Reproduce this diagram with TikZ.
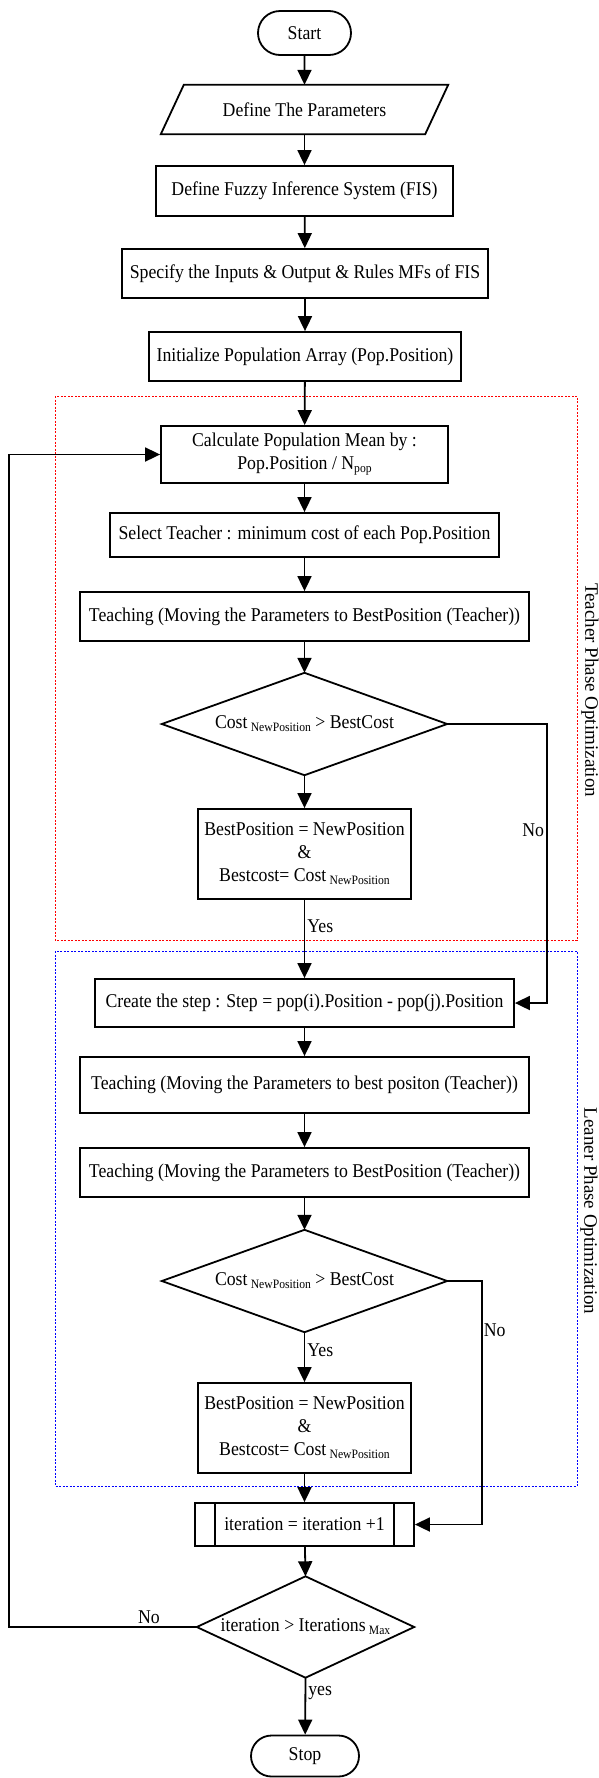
\documentclass[tikz,border=0pt]{standalone}
\usepackage{fontspec}
\setmainfont{Liberation Serif}[FakeStretch=0.91]
\newfontfamily\vfont{Liberation Serif}
\usetikzlibrary{arrows.meta,shapes.misc}
\newcommand{\lowsub}[1]{\raisebox{-3pt}{\fontsize{12.8}{13}\selectfont #1}}
\tikzset{
  box/.style={draw, line width=1.8pt, rectangle, inner sep=0pt, align=center},
  term/.style={draw, line width=1.8pt, rounded rectangle, inner sep=0pt, align=center},
  hidden/.style={rectangle, inner sep=0pt, align=center},
  arr/.style={-{Triangle[length=15pt,width=14pt]}, line width=1.8pt},
  shape line/.style={line width=1.8pt},
  phase/.style={line width=1pt, dash pattern=on 2pt off 1.5pt},
  lbl/.style={inner sep=2pt},
  vlabel/.style={rotate=-90, font=\vfont\fontsize{19}{22}\selectfont}
}
\begin{document}
\begin{tikzpicture}[x=1pt,y=-1pt,font=\fontsize{19.5}{23}\selectfont]
\useasboundingbox (0,0) rectangle (598,1778);

% phase frames
\draw[phase, red] (55,396) rectangle (577,940);
\draw[phase, blue] (55,951) rectangle (577,1486);
\node[vlabel] (tlabel) at (590,690) {Teacher Phase Optimization};
\node[vlabel] (llabel) at (589,1211) {Leaner Phase Optimization};

% nodes
\node[term, minimum width=93pt, minimum height=44pt] (start) at (304.5,33) {Start};
\node[hidden, minimum width=264pt, minimum height=49pt] (params) at (304.5,109.5) {Define The Parameters};
\node[box, minimum width=297pt, minimum height=50pt] (fis) at (304.5,191) {Define Fuzzy Inference System (FIS)};
\node[box, minimum width=366pt, minimum height=49pt] (spec) at (305,273.5) {Specify the Inputs \& Output \& Rules MFs of FIS};
\node[box, minimum width=312pt, minimum height=49pt] (init) at (305,356.5) {Initialize Population Array (Pop.Position)};
\node[box, minimum width=287pt, minimum height=57pt] (calc) at (304.5,454.5) {Calculate Population Mean by :\\Pop.Position / N\lowsub{pop}};
\node[box, minimum width=389pt, minimum height=44pt] (select) at (304.5,535) {Select Teacher : minimum cost of each Pop.Position};
\node[box, minimum width=449pt, minimum height=49pt] (teach1) at (304.5,616.5) {Teaching (Moving the Parameters to BestPosition (Teacher))};
\node[hidden, minimum width=285pt, minimum height=102pt] (dec1) at (304.5,724) {Cost\,\lowsub{NewPosition} > BestCost};
\node[box, minimum width=213pt, minimum height=90pt] (best1) at (304.5,854) {BestPosition = NewPosition\\\&\\Bestcost= Cost\,\lowsub{NewPosition}};
\node[box, minimum width=419pt, minimum height=48pt] (step) at (304.5,1003) {Create the step : Step = pop(i).Position - pop(j).Position};
\node[box, minimum width=449pt, minimum height=56pt] (teach2) at (304.5,1085) {Teaching (Moving the Parameters to best positon (Teacher))};
\node[box, minimum width=449pt, minimum height=49pt] (teach3) at (304.5,1172.5) {Teaching (Moving the Parameters to BestPosition (Teacher))};
\node[hidden, minimum width=285pt, minimum height=102pt] (dec2) at (304.5,1281) {Cost\,\lowsub{NewPosition} > BestCost};
\node[box, minimum width=213pt, minimum height=90pt] (best2) at (304.5,1428) {BestPosition = NewPosition\\\&\\Bestcost= Cost\,\lowsub{NewPosition}};
\node[box, minimum width=219pt, minimum height=43pt] (iter) at (304.5,1524.5) {iteration = iteration +1};
\node[hidden, minimum width=217pt, minimum height=101pt] (dec3) at (305.5,1627) {iteration > Iterations\,\lowsub{Max}};
\node[term, minimum width=108pt, minimum height=41pt] (stop) at (305,1756) {Stop};

% shape outlines
\draw[shape line, line join=miter] ([xshift=11.5pt]params.north west) -- ([xshift=11.5pt]params.north east)
  -- ([xshift=-11.5pt]params.south east) -- ([xshift=-11.5pt]params.south west) -- cycle;
\foreach \d in {dec1,dec2,dec3}{
  \draw[shape line] (\d.north) -- (\d.east) -- (\d.south) -- (\d.west) -- cycle;
}
\draw[shape line] ([xshift=21pt]iter.north west) -- ([xshift=21pt]iter.south west);
\draw[shape line] ([xshift=-21pt]iter.north east) -- ([xshift=-21pt]iter.south east);

% connectors
\draw[arr] (start) -- (params);
\draw[arr] (params) -- (fis);
\draw[arr] (fis) -- (spec);
\draw[arr] (spec) -- (init);
\draw[arr] (init) -- (calc);
\draw[arr] (calc) -- (select);
\draw[arr] (select) -- (teach1);
\draw[arr] (teach1) -- (dec1.north);
\draw[arr] (dec1.south) -- (best1);
\draw[arr] (best1) -- node[pos=0.33, anchor=west, lbl] {Yes} (step);
\coordinate (n1) at (547,724);
\draw[arr] (dec1.east) -- (n1) |- node[pos=0.19, anchor=east, lbl] {No} (step.east);
\draw[arr] (step) -- (teach2);
\draw[arr] (teach2) -- (teach3);
\draw[arr] (teach3) -- (dec2.north);
\draw[arr] (dec2.south) -- node[pos=0.37, anchor=west, lbl] {Yes} (best2);
\coordinate (n2) at (482,1281);
\draw[arr] (dec2.east) -- (n2) |- node[pos=0.10, anchor=west, inner sep=1pt] {No} (iter.east);
\draw[arr] (best2) -- (iter);
\draw[arr] (iter) -- (dec3.north);
\draw[arr] (dec3.south) -- node[pos=0.26, anchor=west, lbl] {yes} (stop);
\coordinate (l1) at (9,1627);
\draw[arr] (dec3.west) -- node[pos=0.255, above, inner sep=2pt] {No} (l1) |- (calc.west);
\end{tikzpicture}
\end{document}
